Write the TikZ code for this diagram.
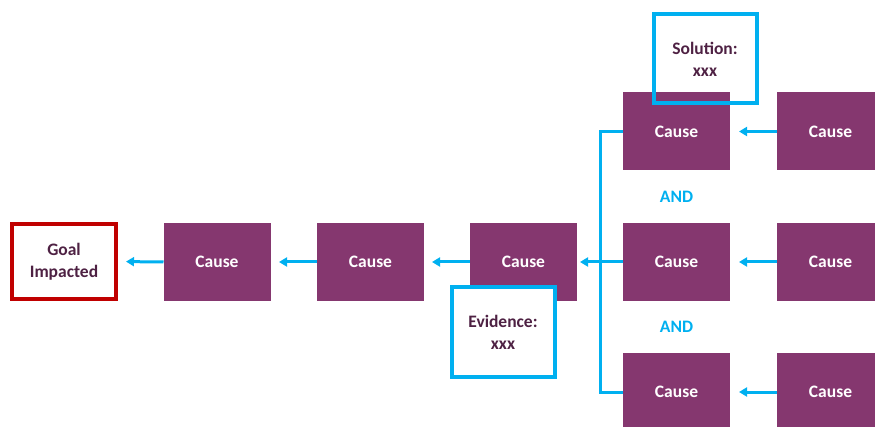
\documentclass[tikz,border=0pt]{standalone}
\usepackage{fontspec}
\setmainfont{Carlito}
\usetikzlibrary{arrows.meta}

\definecolor{causefill}{HTML}{85376F}
\definecolor{linkblue}{HTML}{00B0F0}
\definecolor{goalred}{HTML}{C00000}
\definecolor{darktext}{HTML}{4E2143}

\tikzset{
  base/.style={inner sep=0pt, outer sep=0pt, align=center,
    font=\fontsize{17.5}{22}\selectfont\bfseries},
  causebox/.style={base, fill=causefill, text=white,
    minimum width=107pt, minimum height=78pt},
  goalbox/.style={base, draw=goalred, line width=4pt, fill=white, text=darktext,
    minimum width=104pt, minimum height=75pt},
  notebox/.style={base, draw=linkblue, line width=4pt, text=darktext,
    minimum width=103pt, minimum height=89pt},
  andlabel/.style={base, text=linkblue},
  link/.style={draw=linkblue, line width=3pt},
  arr/.style={link, -{Triangle[length=8pt,width=9pt]}}
}

\begin{document}
\begin{tikzpicture}[x=1pt, y=-1pt]
  \useasboundingbox (0,0) rectangle (875,427);
  \clip (0,0) rectangle (875,427);

  % main chain
  \node[goalbox]  (goal) at (64,261.5) {Goal\\Impacted};
  \node[causebox] (c1) at (217,262)   {Cause};
  \node[causebox] (c2) at (370.5,262) {Cause};
  \node[causebox] (c3) at (523.5,262) {Cause};

  % contributing causes
  \node[causebox] (m1) at (676.5,131.5) {Cause};
  \node[causebox] (m2) at (676.5,262)   {Cause};
  \node[causebox] (m3) at (676.5,392)   {Cause};
  \node[causebox] (r1) at (830.5,131.5) {Cause};
  \node[causebox] (r2) at (830.5,262)   {Cause};
  \node[causebox] (r3) at (830.5,392)   {Cause};

  \node[andlabel] (and1) at (676.5,197) {AND};
  \node[andlabel] (and2) at (676.5,327) {AND};

  % connectors
  \draw[arr, shorten >=10pt]  (c1.west) -- (goal.east);
  \draw[arr, shorten >=8.5pt] (c2.west) -- (c1.east);
  \draw[arr, shorten >=8pt]   (c3.west) -- (c2.east);
  \draw[arr, shorten >=3pt]   (m2.west) -- (c3.east);
  \draw[arr, shorten >=9pt]   (r1.west) -- (m1.east);
  \draw[arr, shorten >=9pt]   (r2.west) -- (m2.east);
  \draw[arr, shorten >=9pt]   (r3.west) -- (m3.east);

  % bus joining the three branches
  \coordinate (bus) at (600.5,262);
  \draw[link, line join=miter] (m1.west) -- (m1.west -| bus) -- (m3.west -| bus) -- (m3.west);

  % notes
  \node[notebox] (solution) at (705,59) {Solution:\\xxx};
  \node[notebox, fill=white] (evidence) at (503,332) {Evidence:\\xxx};
\end{tikzpicture}
\end{document}
